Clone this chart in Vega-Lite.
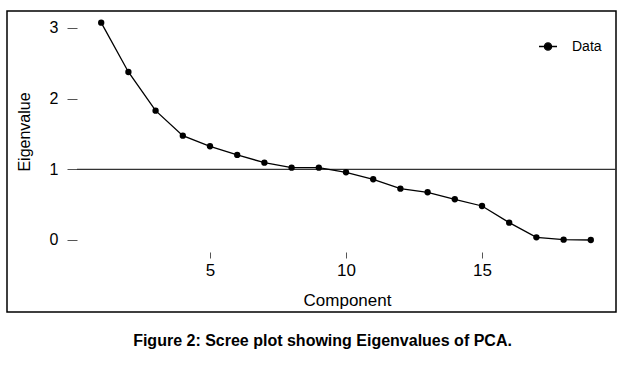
{
  "$schema": "https://vega.github.io/schema/vega-lite/v6.json",
  "autosize": "none",
  "padding": {"left": 7, "top": 11, "right": 9, "bottom": 55},
  "width": 609,
  "height": 301,
  "background": "white",
  "config": {
    "view": {"stroke": "black", "strokeWidth": 1.5},
    "font": "Liberation Sans"
  },
  "title": {
    "text": "Figure 2: Scree plot showing Eigenvalues of PCA.",
    "orient": "bottom",
    "anchor": "middle",
    "font": "Liberation Sans",
    "fontSize": 16,
    "fontWeight": "bold",
    "color": "black",
    "offset": 21,
    "dx": 11
  },
  "datasets": {
    "scree": [
      {"component": 1, "eigenvalue": 3.075, "series": "Data"},
      {"component": 2, "eigenvalue": 2.377, "series": "Data"},
      {"component": 3, "eigenvalue": 1.83, "series": "Data"},
      {"component": 4, "eigenvalue": 1.476, "series": "Data"},
      {"component": 5, "eigenvalue": 1.326, "series": "Data"},
      {"component": 6, "eigenvalue": 1.203, "series": "Data"},
      {"component": 7, "eigenvalue": 1.094, "series": "Data"},
      {"component": 8, "eigenvalue": 1.023, "series": "Data"},
      {"component": 9, "eigenvalue": 1.023, "series": "Data"},
      {"component": 10, "eigenvalue": 0.958, "series": "Data"},
      {"component": 11, "eigenvalue": 0.859, "series": "Data"},
      {"component": 12, "eigenvalue": 0.726, "series": "Data"},
      {"component": 13, "eigenvalue": 0.675, "series": "Data"},
      {"component": 14, "eigenvalue": 0.576, "series": "Data"},
      {"component": 15, "eigenvalue": 0.481, "series": "Data"},
      {"component": 16, "eigenvalue": 0.245, "series": "Data"},
      {"component": 17, "eigenvalue": 0.038, "series": "Data"},
      {"component": 18, "eigenvalue": 0.005, "series": "Data"},
      {"component": 19, "eigenvalue": 0.0, "series": "Data"}
    ],
    "ref": [
      {"start": 0.11, "end": 19.926, "level": 1}
    ]
  },
  "layer": [
    {
      "data": {"name": "ref"},
      "mark": {"type": "rule", "color": "#333333", "strokeWidth": 1.2},
      "encoding": {
        "x": {"field": "start", "type": "quantitative"},
        "x2": {"field": "end"},
        "y": {"field": "level", "type": "quantitative"}
      }
    },
    {
      "data": {"name": "scree"},
      "mark": {"type": "line", "color": "black", "strokeWidth": 1.3},
      "encoding": {
        "x": {"field": "component", "type": "quantitative"},
        "y": {"field": "eigenvalue", "type": "quantitative"}
      }
    },
    {
      "data": {"name": "scree"},
      "mark": {"type": "point", "filled": true, "size": 40, "opacity": 1},
      "encoding": {
        "x": {
          "field": "component",
          "type": "quantitative",
          "scale": {"domain": [-2.463, 19.926], "nice": false, "zero": false},
          "axis": {
            "values": [5, 10, 15],
            "format": "d",
            "offset": -60,
            "domain": false,
            "grid": false,
            "tickSize": 6,
            "tickColor": "#555555",
            "tickWidth": 1,
            "labelFontSize": 17,
            "labelColor": "black",
            "labelPadding": 4,
            "title": "Component",
            "titleFontSize": 17,
            "titleFontWeight": "normal",
            "titleColor": "black",
            "titleX": 340,
            "titleY": 53,
            "titleBaseline": "alphabetic",
            "titleAnchor": null
          }
        },
        "y": {
          "field": "eigenvalue",
          "type": "quantitative",
          "scale": {"domain": [-1.019, 3.24], "nice": false, "zero": false},
          "axis": {
            "values": [0, 1, 2, 3],
            "format": "d",
            "offset": -70,
            "domain": false,
            "grid": false,
            "tickSize": 10,
            "tickColor": "#555555",
            "tickWidth": 1,
            "labelFontSize": 16,
            "labelColor": "black",
            "labelPadding": 9,
            "title": "Eigenvalue",
            "titleFontSize": 16,
            "titleFontWeight": "normal",
            "titleColor": "black",
            "titleX": -47.5,
            "titleY": 120.5,
            "titleAngle": -90,
            "titleAlign": "center",
            "titleBaseline": "alphabetic"
          }
        },
        "color": {
          "field": "series",
          "type": "nominal",
          "scale": {"domain": ["Data"], "range": ["black"]},
          "legend": {
            "title": null,
            "orient": "none",
            "legendX": 531,
            "legendY": 25.5,
            "padding": 0,
            "symbolType": "M-1,0H1M0.4,0A0.4,0.4,0,1,1,-0.4,0A0.4,0.4,0,1,1,0.4,0Z",
            "symbolSize": 324,
            "symbolFillColor": "black",
            "symbolStrokeColor": "black",
            "symbolStrokeWidth": 1.3,
            "labelFontSize": 14,
            "labelColor": "black",
            "labelOffset": 14
          }
        }
      }
    }
  ]
}
